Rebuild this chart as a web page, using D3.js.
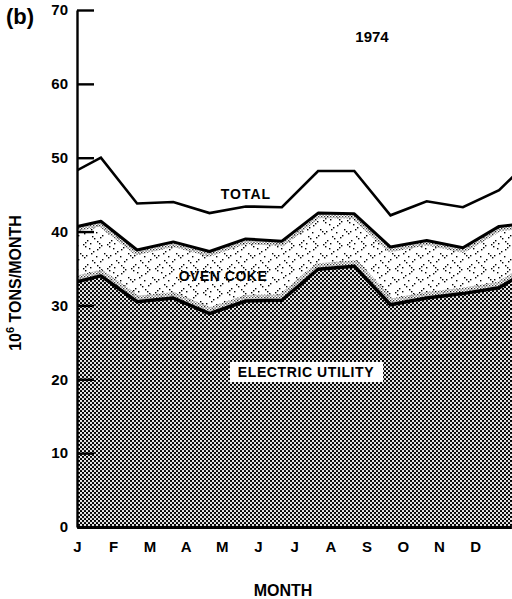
<!DOCTYPE html>
<html>
<head>
<meta charset="utf-8">
<script src="https://cdn.jsdelivr.net/npm/d3@7"></script>
<style>
  html, body { margin: 0; padding: 0; background: #fff; }
  svg { display: block; }
  text { font-family: "Liberation Sans", Arial, Helvetica, sans-serif; font-weight: bold; fill: #000; }
</style>
</head>
<body>
<svg id="chart" width="512" height="599"></svg>
<script>
// ---- data (10^6 tons / month, 1974) ----
const monthLabels = ["J","F","M","A","M","J","J","A","S","O","N","D"];
// periods: previous Dec, Jan..Dec 1974, next Jan (the edge points run off the frame)
const periods = ["Dec73","Jan","Feb","Mar","Apr","May","Jun","Jul","Aug","Sep","Oct","Nov","Dec","Jan75"];
const electricUtility = [32.8, 34.0, 30.5, 31.0, 28.9, 30.6, 30.7, 34.9, 35.3, 30.1, 31.0, 31.6, 32.4, 35.3];
const ovenCoke        = [ 7.5,  7.4,  7.0,  7.6,  8.4,  8.4,  8.0,  7.6,  7.1,  7.8,  7.8,  6.2,  8.3,  5.9];
const otherUses       = [ 7.1,  8.6,  6.3,  5.4,  5.2,  4.4,  4.6,  5.7,  5.8,  4.3,  5.3,  5.5,  4.9,  9.2];
const yTicks = [0, 10, 20, 30, 40, 50, 60, 70];
const seriesKeys = ["electric", "oven", "other"];

// ---- layout ----
const svg = d3.select("#chart");
const W = 512, H = 599;
const x = d3.scaleLinear().domain([0, 12]).range([77, 511.4]);
const y = d3.scaleLinear().domain([0, 70]).range([527, 10]);
const dataOffset = 0.66; // points sit part-way through each month
const px = (d, i) => x(i - 1 + dataOffset);

const rows = periods.map((p, i) => ({
  period: p, electric: electricUtility[i], oven: ovenCoke[i], other: otherUses[i]
}));
const stacked = d3.stack().keys(seriesKeys)(rows);

// ---- patterns ----
const defs = svg.append("defs");
const dark = defs.append("pattern").attr("id", "dark").attr("patternUnits", "userSpaceOnUse")
  .attr("width", 4).attr("height", 4);
dark.append("rect").attr("width", 4).attr("height", 4).attr("fill", "#000");
dark.append("ellipse").attr("cx", 1).attr("cy", 1).attr("rx", 1.0).attr("ry", 1.25).attr("fill", "#fff");
dark.append("ellipse").attr("cx", 3).attr("cy", 3).attr("rx", 1.0).attr("ry", 1.25).attr("fill", "#fff");

// sparse speckle for oven coke
const sp = defs.append("pattern").attr("id", "speckle").attr("patternUnits", "userSpaceOnUse")
  .attr("width", 24).attr("height", 24);
sp.append("rect").attr("width", 24).attr("height", 24).attr("fill", "#fff");
const specks = [[1,1],[3,3],[5,5],[3,7],[1,9],[11,4],[13,2],[15,0],[13,6],[17,8],[8,13],[10,15],[12,17],[14,15],[6,19],[19,13],[21,11],[20,20],[0,16],[22,22],[18,3],[4,21]];
specks.forEach(([a, b]) => sp.append("rect").attr("x", a).attr("y", b).attr("width", 1.4).attr("height", 1.4).attr("fill", "#000"));

// dense halftone used along band edges
const dense = defs.append("pattern").attr("id", "dense").attr("patternUnits", "userSpaceOnUse")
  .attr("width", 3).attr("height", 3);
dense.append("rect").attr("width", 3).attr("height", 3).attr("fill", "#fff");
dense.append("rect").attr("x", 0).attr("y", 0).attr("width", 1.3).attr("height", 1.3).attr("fill", "#000");
dense.append("rect").attr("x", 1.5).attr("y", 1.5).attr("width", 1.2).attr("height", 1.2).attr("fill", "#000");

defs.append("clipPath").attr("id", "plotClip").append("rect")
  .attr("x", 77).attr("y", 0).attr("width", W - 77).attr("height", 527);

const area = d3.area().x(px).y0(d => y(d[0])).y1(d => y(d[1]));
const topLine = d3.line().x(px).y(d => y(d[1]));

const plot = svg.append("g").attr("clip-path", "url(#plotClip)");

// oven coke band
const ovenSeries = stacked[1];
defs.append("clipPath").attr("id", "ovenClip").append("path").attr("d", area(ovenSeries));
plot.append("path").attr("d", area(ovenSeries)).attr("fill", "url(#speckle)");
const ovenEdges = plot.append("g").attr("clip-path", "url(#ovenClip)");
ovenEdges.append("path").attr("d", topLine(ovenSeries)).attr("fill", "none")
  .attr("stroke", "url(#dense)").attr("stroke-width", 10).attr("opacity", 0.75);
ovenEdges.append("path").attr("d", topLine(stacked[0])).attr("fill", "none")
  .attr("stroke", "url(#dense)").attr("stroke-width", 12).attr("opacity", 0.75);

// electric utility band
plot.append("path").attr("d", area(stacked[0])).attr("fill", "url(#dark)");
plot.append("path").attr("d", topLine(stacked[0])).attr("fill", "none")
  .attr("stroke", "#000").attr("stroke-width", 3.5).attr("stroke-linejoin", "round");

// oven coke top (electric + oven coke)
plot.append("path").attr("d", topLine(ovenSeries)).attr("fill", "none")
  .attr("stroke", "#000").attr("stroke-width", 3).attr("stroke-linejoin", "round");

// total
plot.append("path").attr("d", topLine(stacked[2])).attr("fill", "none")
  .attr("stroke", "#000").attr("stroke-width", 2.6).attr("stroke-linejoin", "miter");

// ---- axes ----
const yAxis = d3.axisLeft(y).tickValues(yTicks).tickSize(-17).tickSizeOuter(0).tickPadding(9)
  .tickFormat(d3.format("d"));
const gy = svg.append("g").attr("transform", "translate(77,0)").call(yAxis);
gy.select(".domain").attr("stroke", "#000").attr("stroke-width", 2.4);
gy.selectAll(".tick line").attr("stroke", "#000").attr("stroke-width", 2.4);
gy.selectAll(".tick text").style("font-size", "15px").style("font-family", "'Liberation Sans', Arial, sans-serif")
  .style("font-weight", "bold").attr("x", -9);

const xAxis = d3.axisBottom(x).tickValues(d3.range(12)).tickSize(0).tickSizeOuter(0).tickPadding(14)
  .tickFormat(i => monthLabels[i]);
const gx = svg.append("g").attr("transform", "translate(0,527)").call(xAxis);
gx.select(".domain").attr("stroke", "#000").attr("stroke-width", 3.2);
gx.selectAll(".tick text").style("font-size", "15px").style("font-family", "'Liberation Sans', Arial, sans-serif")
  .style("font-weight", "bold");

// ---- labels ----
svg.append("text").attr("x", 6).attr("y", 24).style("font-size", "22px").text("(b)");
svg.append("text").attr("x", 372).attr("y", 42).attr("text-anchor", "middle").style("font-size", "15px").text("1974");
svg.append("text").attr("x", 246).attr("y", 199).attr("text-anchor", "middle").style("font-size", "14px")
  .style("letter-spacing", "1px").text("TOTAL");
svg.append("text").attr("x", 223).attr("y", 281).attr("text-anchor", "middle").style("font-size", "14px")
  .style("letter-spacing", "0.5px").text("OVEN COKE");
const eu = svg.append("g");
eu.append("rect").attr("x", 230).attr("y", 362).attr("width", 153).attr("height", 20).attr("fill", "#fff");
eu.append("text").attr("x", 306).attr("y", 377).attr("text-anchor", "middle").style("font-size", "14px")
  .style("letter-spacing", "0.6px").text("ELECTRIC UTILITY");

svg.append("text").attr("x", 283).attr("y", 596).attr("text-anchor", "middle").style("font-size", "16px").text("MONTH");

const yt = svg.append("text").attr("transform", "translate(21,283) rotate(-90)").attr("text-anchor", "middle")
  .style("font-size", "16px");
yt.append("tspan").text("10");
yt.append("tspan").attr("dy", -7).style("font-size", "11px").text("6");
yt.append("tspan").attr("dy", 7).text(" TONS/MONTH");
</script>
</body>
</html>
